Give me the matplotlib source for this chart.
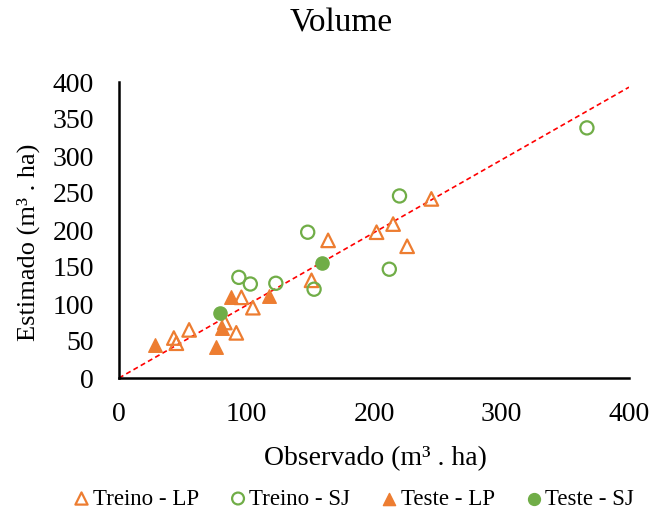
import matplotlib.pyplot as plt

plt.rcParams['font.family'] = ['Liberation Serif', 'DejaVu Serif']

# Data (observado, estimado)
treino_lp_x = [43, 45, 55, 83, 92, 96, 105, 151, 164, 202, 215, 226, 245]
treino_lp_y = [54, 47, 65, 75, 61, 109, 95, 132, 186, 197, 208, 178, 242]

treino_sj_x = [94, 103, 123, 148, 153, 212, 220, 367]
treino_sj_y = [136, 127, 128, 197, 120, 147, 246, 338]

teste_lp_x = [28, 76, 81, 88, 118]
teste_lp_y = [45, 42, 67, 110, 111]

teste_sj_x = [79, 159]
teste_sj_y = [88, 155]

line_x = [0, 400]
line_y = [0, 393]

orange = '#ED7D31'
green = '#70AD47'

fig = plt.figure(figsize=(6.54, 5.13), dpi=100)
ax = fig.add_axes([119 / 654, 1 - 378 / 513, 510 / 654, 296 / 513])

ax.plot(line_x, line_y, color='red', linestyle=(0, (3, 2)), linewidth=1.2, zorder=1)

ax.scatter(treino_lp_x, treino_lp_y, marker='^', s=95, facecolors='none',
           edgecolors=orange, linewidths=1.6, label='Treino - LP', zorder=3)
ax.scatter(treino_sj_x, treino_sj_y, marker='o', s=90, facecolors='none',
           edgecolors=green, linewidths=1.6, label='Treino - SJ', zorder=3)
ax.scatter(teste_lp_x, teste_lp_y, marker='^', s=95, color=orange,
           label='Teste - LP', zorder=4)
ax.scatter(teste_sj_x, teste_sj_y, marker='o', s=90, color=green,
           label='Teste - SJ', zorder=4)

ax.set_xlim(0, 400)
ax.set_ylim(0, 400)
ax.set_xticks([0, 100, 200, 300, 400])
ax.set_yticks(range(0, 401, 50))
ax.tick_params(length=0, labelsize=20)
ax.tick_params(axis='x', pad=17)
ax.tick_params(axis='y', pad=18)
ax.spines['top'].set_visible(False)
ax.spines['right'].set_visible(False)
ax.spines['left'].set_linewidth(1.8)
ax.spines['bottom'].set_linewidth(1.8)

fig.text(375 / 654, 1 - 465 / 513, 'Observado (m³ . ha)', fontsize=20,
         ha='center', va='baseline')
fig.text(28 / 654, 1 - 242 / 513, 'Estimado (m³ . ha)', fontsize=19,
         ha='center', va='center', rotation=90)
fig.text(341 / 654, 1 - 32 / 513, 'Volume', fontsize=24, ha='center', va='baseline')

fig.legend(loc='center', bbox_to_anchor=(352 / 654, 1 - 499 / 513), ncol=4, frameon=False,
           fontsize=16.5, markerscale=0.9, handletextpad=0.0, columnspacing=1.2,
           handlelength=1.0, borderpad=0)

fig.savefig('out.png', dpi=100)
